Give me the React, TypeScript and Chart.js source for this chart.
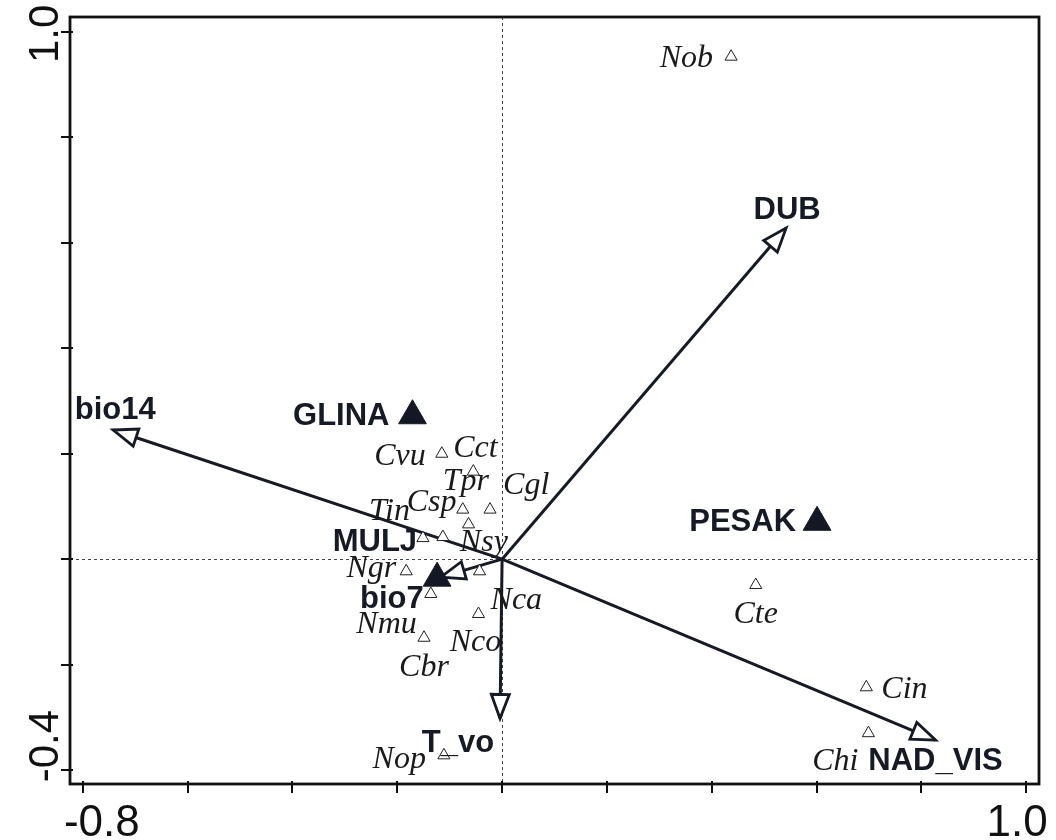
import React, { useEffect, useRef } from 'react';
import { Chart, registerables } from 'chart.js';

Chart.register(...registerables);

// ---- Species scores (open triangles) ----
const speciesNames = ['Nob', 'Cvu', 'Cct', 'Tpr', 'Cgl', 'Csp', 'Tin', 'Nsy', 'Ngr', 'Nca', 'Nmu', 'Nco', 'Cbr', 'Cte', 'Cin', 'Chi', 'Nop'];
const speciesX = [0.437, -0.115, -0.055, -0.075, -0.023, -0.064, -0.151, -0.113, -0.183, -0.043, -0.136, -0.045, -0.149, 0.484, 0.695, 0.699, -0.111];
const speciesY = [0.953, 0.200, 0.166, 0.094, 0.094, 0.066, 0.040, 0.042, -0.023, -0.023, -0.066, -0.104, -0.149, -0.049, -0.243, -0.330, -0.372];

// ---- Nominal environmental classes (filled triangles) ----
const classNames = ['GLINA', 'PESAK', 'MULJ'];
const classX = [-0.171, 0.601, -0.124];
const classY = [0.272, 0.070, -0.036];

// ---- Quantitative environmental variables (arrows) ----
const varNames = ['DUB', 'bio14', 'NAD_VIS', 'T_vo', 'bio7'];
const varX = [0.542, -0.742, 0.827, -0.004, -0.117];
const varY = [0.628, 0.245, -0.343, -0.302, -0.034];

// ---- Axes ----
const xTicks = [-0.8, -0.6, -0.4, -0.2, 0, 0.2, 0.4, 0.6, 0.8, 1.0];
const yTicks = [-0.4, -0.2, 0, 0.2, 0.4, 0.6, 0.8, 1.0];
const xTickLabels = ['-0.8', '1.0'];
const yTickLabels = ['-0.4', '1.0'];
const xLabeledTicks = [-0.8, 1.0];
const yLabeledTicks = [-0.4, 1.0];

// ---- Label placement (pixel offsets from the mark: align, dx, baseline dy) ----
type Place = [CanvasTextAlign, number, number];
const speciesLabelPlace: Record<string, Place> = {
  Nob: ['right', -18, 10],
  Cvu: ['right', -16, 11],
  Cct: ['left', -20, -15],
  Tpr: ['center', 3, -20],
  Cgl: ['left', 13, -16],
  Csp: ['right', -12, -13],
  Tin: ['right', -13, -18],
  Nsy: ['left', 17, 14],
  Ngr: ['right', -10, 6],
  Nca: ['left', 11, 38],
  Nmu: ['right', -14, 39],
  Nco: ['center', -3, 37],
  Cbr: ['center', 0, 38],
  Cte: ['center', 0, 38],
  Cin: ['left', 15, 11],
  Chi: ['right', -10, 37],
  Nop: ['right', -18, 13],
};
const classLabelPlace: Record<string, Place> = {
  GLINA: ['right', -23, 9],
  PESAK: ['right', -21, 9],
  MULJ: ['right', -20, -27],
};
const varLabelPlace: Record<string, Place> = {
  DUB: ['center', 1, -9],
  bio14: ['center', 2, -11],
  NAD_VIS: ['center', 0, 30],
  T_vo: ['center', -42, 34],
  bio7: ['right', -17, 31],
};

const INK = '#161a24';
const SERIF_IT = 'italic 32px "Liberation Serif", "Times New Roman", serif';
const SANS_BOLD = 'bold 31px "Liberation Sans", Arial, sans-serif';
const XTICK_FONT = '44px "Liberation Sans", Arial, sans-serif';
const YTICK_FONT = '42px "Liberation Sans", Arial, sans-serif';

const biplotPlugin = {
  id: 'biplot',
  beforeDatasetsDraw(chart: any) {
    const { ctx, chartArea: a, scales } = chart;
    const x0 = Math.round(scales.x.getPixelForValue(0)) + 0.5;
    const y0 = Math.round(scales.y.getPixelForValue(0)) + 0.5;
    ctx.save();
    ctx.strokeStyle = '#444';
    ctx.lineWidth = 1;
    ctx.setLineDash([3, 3]);
    ctx.beginPath();
    ctx.moveTo(x0, a.top);
    ctx.lineTo(x0, a.bottom);
    ctx.moveTo(a.left, y0);
    ctx.lineTo(a.right, y0);
    ctx.stroke();
    ctx.restore();
  },
  afterDatasetDraw(chart: any, args: any) {
    const ds = chart.data.datasets[args.index];
    if (!ds.isArrow) return;
    const { ctx } = chart;
    const pts = args.meta.data;
    const p0 = pts[0];
    const p1 = pts[1];
    const ang = Math.atan2(p1.y - p0.y, p1.x - p0.x);
    const L = 24;
    const W = 9;
    const bx = p1.x - L * Math.cos(ang);
    const by = p1.y - L * Math.sin(ang);
    const px = -Math.sin(ang) * W;
    const py = Math.cos(ang) * W;
    ctx.save();
    ctx.beginPath();
    ctx.moveTo(p1.x, p1.y);
    ctx.lineTo(bx + px, by + py);
    ctx.lineTo(bx - px, by - py);
    ctx.closePath();
    ctx.fillStyle = '#ffffff';
    ctx.fill();
    ctx.lineWidth = 2.8;
    ctx.lineJoin = 'miter';
    ctx.strokeStyle = INK;
    ctx.stroke();
    ctx.restore();
  },
  afterDatasetsDraw(chart: any) {
    const { ctx, chartArea: a, scales } = chart;
    const sx = scales.x;
    const sy = scales.y;
    ctx.save();

    // frame
    ctx.strokeStyle = '#111';
    ctx.lineWidth = 2.8;
    ctx.strokeRect(a.left, a.top, a.right - a.left, a.bottom - a.top);

    // tick marks
    ctx.lineWidth = 2;
    ctx.beginPath();
    xTicks.forEach((v) => {
      const px = Math.round(sx.getPixelForValue(v));
      ctx.moveTo(px, a.bottom - 3);
      ctx.lineTo(px, a.bottom + 9);
    });
    yTicks.forEach((v) => {
      const py = Math.round(sy.getPixelForValue(v));
      ctx.moveTo(a.left - 9, py);
      ctx.lineTo(a.left + 3, py);
    });
    ctx.stroke();

    // tick labels
    ctx.fillStyle = '#111';
    ctx.textBaseline = 'alphabetic';
    ctx.textAlign = 'center';
    ctx.font = XTICK_FONT;
    xLabeledTicks.forEach((v, i) => {
      const px = sx.getPixelForValue(v);
      const shift = i === 0 ? 19 : -9;
      ctx.fillText(xTickLabels[i], px + shift, a.bottom + 52);
    });
    ctx.font = YTICK_FONT;
    yLabeledTicks.forEach((v, i) => {
      const py = sy.getPixelForValue(v);
      const shift = i === 0 ? -24 : 2;
      ctx.save();
      ctx.translate(a.left - 12, py + shift);
      ctx.rotate(-Math.PI / 2);
      ctx.fillText(yTickLabels[i], 0, 0);
      ctx.restore();
    });

    // species labels
    ctx.font = SERIF_IT;
    ctx.fillStyle = '#1a1a1a';
    speciesNames.forEach((n, i) => {
      const [al, dx, dy] = speciesLabelPlace[n];
      const px = sx.getPixelForValue(speciesX[i]);
      const py = sy.getPixelForValue(speciesY[i]);
      ctx.textAlign = al;
      ctx.fillText(n, px + dx, py + dy);
    });

    // environmental labels
    ctx.font = SANS_BOLD;
    ctx.fillStyle = INK;
    classNames.forEach((n, i) => {
      const [al, dx, dy] = classLabelPlace[n];
      ctx.textAlign = al;
      ctx.fillText(n, sx.getPixelForValue(classX[i]) + dx, sy.getPixelForValue(classY[i]) + dy);
    });
    varNames.forEach((n, i) => {
      const [al, dx, dy] = varLabelPlace[n];
      ctx.textAlign = al;
      ctx.fillText(n, sx.getPixelForValue(varX[i]) + dx, sy.getPixelForValue(varY[i]) + dy);
    });

    ctx.restore();
  },
};

export default function App() {
  const ref = useRef<HTMLCanvasElement | null>(null);

  useEffect(() => {
    if (!ref.current) return;
    const datasets: any[] = [
      {
        label: 'classes',
        data: classX.map((x, i) => ({ x, y: classY[i] })),
        pointStyle: 'triangle',
        pointRadius: 16,
        pointHoverRadius: 16,
        backgroundColor: '#141824',
        borderColor: '#141824',
        borderWidth: 1,
        order: 0,
      },
      {
        label: 'species',
        data: speciesX.map((x, i) => ({ x, y: speciesY[i] })),
        pointStyle: 'triangle',
        pointRadius: 7,
        pointHoverRadius: 7,
        backgroundColor: '#ffffff',
        borderColor: '#222222',
        borderWidth: 1,
        order: 1,
      },
      ...varNames.map((n, i) => ({
        type: 'line',
        label: n,
        data: [
          { x: 0, y: 0 },
          { x: varX[i], y: varY[i] },
        ],
        borderColor: INK,
        borderWidth: 3,
        pointRadius: 0,
        pointHoverRadius: 0,
        showLine: true,
        fill: false,
        tension: 0,
        order: 2,
        isArrow: true,
      })),
    ];

    const chart = new Chart(ref.current, {
      type: 'scatter',
      data: { datasets },
      options: {
        animation: false,
        responsive: false,
        maintainAspectRatio: false,
        devicePixelRatio: 1,
        events: [],
        layout: { padding: { left: 70, right: 4, top: 13, bottom: 56 } },
        scales: {
          x: { type: 'linear', min: -0.8245, max: 1.0245, display: false },
          y: { type: 'linear', min: -0.4264, max: 1.0283, display: false },
        },
        plugins: {
          legend: { display: false },
          tooltip: { enabled: false },
        },
      } as any,
      plugins: [biplotPlugin],
    });
    return () => chart.destroy();
  }, []);

  return (
    <div style={{ position: 'absolute', left: 0, top: 0, width: 1056, height: 840, background: '#fff' }}>
      <canvas ref={ref} width={1056} height={840} style={{ display: 'block', width: 1056, height: 840 }} />
    </div>
  );
}
